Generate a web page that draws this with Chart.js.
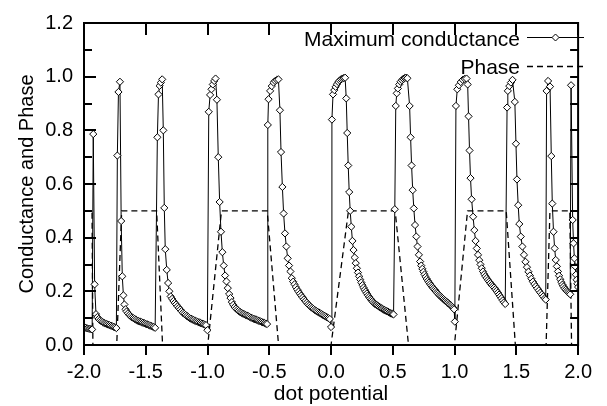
<!DOCTYPE html>
<html>
<head>
<meta charset="utf-8">
<script src="https://cdn.jsdelivr.net/npm/chart.js@4.4.1/dist/chart.umd.min.js"></script>
<style>
  html, body { margin: 0; padding: 0; background: #fff; }
  #wrap { width: 607px; height: 406px; }
</style>
</head>
<body>
<div id="wrap"><canvas id="chart" width="607" height="406"></canvas></div>
<script>
// Maximum conductance, one resonance at a time: [dot potential, value]
const tailLeft = [[-1.996,0.066],[-1.985,0.064],[-1.974,0.062],[-1.963,0.061],[-1.952,0.060],[-1.942,0.059],[-1.934,0.058]];
const peak1 = [[-1.925,0.786],[-1.914,0.226],[-1.903,0.115],[-1.892,0.104],[-1.881,0.097],[-1.870,0.092],[-1.859,0.088],[-1.848,0.085],[-1.837,0.082],[-1.826,0.080],[-1.815,0.078],[-1.804,0.076],[-1.793,0.074],[-1.782,0.072],[-1.771,0.070],[-1.760,0.068],[-1.749,0.066],[-1.738,0.063]];
const peak2 = [[-1.730,0.706],[-1.721,0.943],[-1.709,0.981],[-1.699,0.462],[-1.690,0.256],[-1.681,0.185],[-1.673,0.151],[-1.664,0.133],[-1.655,0.125],[-1.644,0.118],[-1.633,0.112],[-1.622,0.107],[-1.611,0.103],[-1.600,0.100],[-1.589,0.097],[-1.578,0.094],[-1.567,0.091],[-1.556,0.089],[-1.545,0.087],[-1.534,0.085],[-1.523,0.083],[-1.512,0.081],[-1.501,0.079],[-1.490,0.077],[-1.479,0.075],[-1.468,0.073],[-1.457,0.071],[-1.446,0.069],[-1.435,0.067],[-1.424,0.064]];
const peak3 = [[-1.406,0.774],[-1.397,0.934],[-1.388,0.966],[-1.378,0.978],[-1.367,0.990],[-1.358,0.800],[-1.350,0.511],[-1.342,0.357],[-1.330,0.280],[-1.319,0.231],[-1.309,0.200],[-1.298,0.181],[-1.287,0.172],[-1.276,0.164],[-1.265,0.157],[-1.254,0.151],[-1.243,0.144],[-1.232,0.138],[-1.221,0.132],[-1.210,0.126],[-1.199,0.120],[-1.188,0.116],[-1.177,0.112],[-1.166,0.108],[-1.155,0.104],[-1.144,0.100],[-1.133,0.098],[-1.122,0.095],[-1.111,0.093],[-1.100,0.090],[-1.089,0.088],[-1.078,0.086],[-1.067,0.084],[-1.056,0.082],[-1.045,0.080],[-1.034,0.078],[-1.023,0.076],[-1.012,0.074],[-1.001,0.055]];
const peak4 = [[-0.990,0.869],[-0.979,0.932],[-0.968,0.953],[-0.957,0.971],[-0.946,0.984],[-0.935,0.993],[-0.924,0.914],[-0.913,0.700],[-0.902,0.533],[-0.891,0.422],[-0.880,0.346],[-0.869,0.296],[-0.858,0.259],[-0.847,0.237],[-0.836,0.212],[-0.825,0.190],[-0.814,0.175],[-0.803,0.160],[-0.792,0.150],[-0.781,0.142],[-0.770,0.136],[-0.759,0.131],[-0.748,0.127],[-0.737,0.123],[-0.726,0.120],[-0.715,0.117],[-0.704,0.115],[-0.693,0.112],[-0.682,0.110],[-0.671,0.108],[-0.660,0.105],[-0.649,0.102],[-0.638,0.100],[-0.627,0.098],[-0.616,0.096],[-0.605,0.094],[-0.594,0.092],[-0.583,0.090],[-0.572,0.088],[-0.561,0.086],[-0.550,0.084],[-0.539,0.082],[-0.528,0.080],[-0.518,0.078]];
const peak5 = [[-0.512,0.820],[-0.506,0.916],[-0.493,0.947],[-0.480,0.965],[-0.466,0.978],[-0.453,0.984],[-0.439,0.988],[-0.426,0.990],[-0.414,0.875],[-0.405,0.719],[-0.394,0.589],[-0.384,0.490],[-0.373,0.416],[-0.362,0.367],[-0.351,0.323],[-0.340,0.296],[-0.329,0.274],[-0.318,0.249],[-0.307,0.236],[-0.296,0.226],[-0.285,0.216],[-0.274,0.207],[-0.263,0.199],[-0.252,0.191],[-0.241,0.184],[-0.230,0.177],[-0.219,0.170],[-0.208,0.164],[-0.197,0.158],[-0.186,0.152],[-0.175,0.147],[-0.164,0.142],[-0.153,0.138],[-0.142,0.134],[-0.131,0.130],[-0.120,0.127],[-0.109,0.124],[-0.098,0.121],[-0.087,0.118],[-0.076,0.115],[-0.065,0.112],[-0.054,0.109],[-0.043,0.106],[-0.032,0.103],[-0.021,0.100],[-0.010,0.097],[0.000,0.067]];
const peak6 = [[0.007,0.840],[0.016,0.934],[0.026,0.950],[0.037,0.962],[0.048,0.972],[0.059,0.980],[0.070,0.986],[0.081,0.990],[0.092,0.993],[0.103,0.995],[0.114,0.996],[0.123,0.919],[0.131,0.790],[0.139,0.669],[0.147,0.570],[0.155,0.500],[0.164,0.441],[0.173,0.388],[0.182,0.354],[0.191,0.326],[0.200,0.305],[0.209,0.286],[0.218,0.270],[0.227,0.256],[0.236,0.244],[0.245,0.233],[0.254,0.223],[0.263,0.214],[0.272,0.206],[0.281,0.199],[0.290,0.192],[0.299,0.185],[0.308,0.179],[0.317,0.173],[0.326,0.168],[0.335,0.163],[0.344,0.158],[0.353,0.154],[0.362,0.151],[0.371,0.149],[0.380,0.146],[0.389,0.143],[0.398,0.140],[0.407,0.137],[0.416,0.135],[0.425,0.132],[0.434,0.130],[0.443,0.128],[0.452,0.126],[0.461,0.124],[0.470,0.121],[0.479,0.119],[0.488,0.117],[0.497,0.116],[0.506,0.114]];
const peak7 = [[0.516,0.506],[0.524,0.891],[0.532,0.938],[0.541,0.956],[0.552,0.971],[0.563,0.981],[0.574,0.987],[0.585,0.992],[0.596,0.995],[0.607,0.996],[0.618,0.994],[0.636,0.891],[0.644,0.774],[0.652,0.669],[0.661,0.577],[0.670,0.509],[0.680,0.447],[0.690,0.404],[0.700,0.367],[0.711,0.336],[0.721,0.311],[0.730,0.296],[0.739,0.284],[0.748,0.273],[0.757,0.263],[0.766,0.254],[0.775,0.246],[0.784,0.239],[0.793,0.233],[0.802,0.227],[0.811,0.221],[0.820,0.216],[0.829,0.211],[0.838,0.206],[0.847,0.201],[0.856,0.196],[0.865,0.192],[0.874,0.187],[0.883,0.183],[0.892,0.179],[0.901,0.175],[0.910,0.171],[0.919,0.167],[0.928,0.164],[0.937,0.160],[0.946,0.157],[0.955,0.153],[0.964,0.150],[0.973,0.146],[0.982,0.142],[0.990,0.138],[0.996,0.133],[1.002,0.087]];
const peak8 = [[1.011,0.891],[1.022,0.953],[1.035,0.968],[1.050,0.980],[1.066,0.988],[1.082,0.992],[1.097,0.993],[1.106,0.971],[1.113,0.852],[1.121,0.725],[1.129,0.622],[1.138,0.543],[1.150,0.478],[1.160,0.428],[1.170,0.388],[1.180,0.360],[1.190,0.336],[1.200,0.316],[1.210,0.300],[1.220,0.286],[1.230,0.274],[1.240,0.264],[1.250,0.256],[1.260,0.249],[1.270,0.242],[1.280,0.236],[1.290,0.230],[1.300,0.224],[1.310,0.219],[1.320,0.214],[1.330,0.208],[1.340,0.202],[1.350,0.195],[1.360,0.188],[1.370,0.181],[1.380,0.174],[1.390,0.166],[1.400,0.159],[1.410,0.153]];
const peak9 = [[1.425,0.885],[1.431,0.947],[1.443,0.965],[1.456,0.978],[1.469,0.988],[1.488,0.906],[1.497,0.750],[1.505,0.617],[1.515,0.521],[1.524,0.451],[1.536,0.404],[1.549,0.367],[1.562,0.336],[1.574,0.310],[1.586,0.290],[1.598,0.273],[1.610,0.259],[1.622,0.247],[1.634,0.236],[1.646,0.227],[1.658,0.219],[1.670,0.211],[1.682,0.203],[1.694,0.195],[1.706,0.188],[1.718,0.181],[1.730,0.174],[1.738,0.169]];
const peak10 = [[1.745,0.947],[1.757,0.984],[1.773,0.963],[1.783,0.704],[1.791,0.527],[1.801,0.422],[1.810,0.360],[1.819,0.317],[1.828,0.293],[1.837,0.274],[1.846,0.258],[1.855,0.245],[1.864,0.234],[1.873,0.225],[1.882,0.218],[1.891,0.211],[1.900,0.206],[1.909,0.201],[1.918,0.197],[1.927,0.193],[1.936,0.189]];
const peak11 = [[1.943,0.968],[1.956,0.466],[1.963,0.379],[1.970,0.323],[1.976,0.293],[1.982,0.262],[1.988,0.243],[1.994,0.228],[2.000,0.216]];

// Phase (dashed), corners of the 0 / 0.5 steps
const phaseX = [-2.0, -1.935, -1.928, -1.735, -1.695, -1.412, -1.364, -0.998, -0.887, -0.517, -0.425, 0.0, 0.141, 0.519, 0.627, 0.999, 1.105, 1.418, 1.492, 1.741, 1.772, 1.933, 1.947, 2.0];
const phaseY = [0.5, 0.5, 0, 0, 0.5, 0.5, 0, 0, 0.5, 0.5, 0, 0, 0.5, 0.5, 0, 0, 0.5, 0.5, 0, 0, 0.5, 0.5, 0, 0];

const xTicks = [-2.0, -1.5, -1.0, -0.5, 0.0, 0.5, 1.0, 1.5, 2.0];
const yMinorTicks = [0, 0.1, 0.2, 0.3, 0.4, 0.5, 0.6, 0.7, 0.8, 0.9, 1.0, 1.1, 1.2];
const seriesNames = ['Maximum conductance', 'Phase'];
const xTitle = 'dot potential';
const yTitle = 'Conductance and Phase';

const FONT = '"Liberation Sans", Arial, Helvetica, sans-serif';

const condData = [tailLeft, peak1, peak2, peak3, peak4, peak5, peak6, peak7, peak8, peak9, peak10, peak11]
  .flat().map(([x, y]) => ({ x, y }));
const phaseData = phaseX.map((x, i) => ({ x, y: phaseY[i] }));

// box, inward/outward ticks, axis titles and the gnuplot-style key
const framePlugin = {
  id: 'frame',
  afterDatasetsDraw(chart) {
    const { ctx, chartArea: a, scales: { x, y } } = chart;
    ctx.save();
    ctx.strokeStyle = '#000';
    ctx.lineWidth = 2;
    ctx.strokeRect(a.left, a.top, a.right - a.left, a.bottom - a.top);

    ctx.beginPath();
    xTicks.forEach(v => {
      const px = Math.round(x.getPixelForValue(v));
      ctx.moveTo(px, a.bottom); ctx.lineTo(px, a.bottom + 10);
      ctx.moveTo(px, a.top); ctx.lineTo(px, a.top + 12);
    });
    yMinorTicks.forEach((v, i) => {
      const py = Math.round(y.getPixelForValue(v));
      ctx.moveTo(a.left, py); ctx.lineTo(a.left + (i % 2 ? 8 : 12), py);
      ctx.moveTo(a.right, py); ctx.lineTo(a.right - 8, py);
    });
    ctx.stroke();

    ctx.fillStyle = '#000';
    ctx.font = '21px ' + FONT;
    ctx.textAlign = 'center';
    ctx.textBaseline = 'alphabetic';
    ctx.fillText(xTitle, (a.left + a.right) / 2, 400);

    ctx.save();
    ctx.translate(33, (a.top + a.bottom) / 2);
    ctx.rotate(-Math.PI / 2);
    ctx.font = '20px ' + FONT;
    ctx.fillText(yTitle, 0, 0);
    ctx.restore();

    // key
    ctx.font = '21px ' + FONT;
    ctx.textAlign = 'right';
    ctx.fillText(seriesNames[0], 520, 46);
    ctx.fillText(seriesNames[1], 520, 74);

    ctx.lineWidth = 1;
    ctx.beginPath();
    ctx.moveTo(527, 37.5); ctx.lineTo(584, 37.5);
    ctx.stroke();
    ctx.setLineDash([6, 4]);
    ctx.lineWidth = 1.3;
    ctx.beginPath();
    ctx.moveTo(527, 66.5); ctx.lineTo(584, 66.5);
    ctx.stroke();
    ctx.setLineDash([]);
    ctx.lineWidth = 1;
    ctx.fillStyle = '#fff';
    ctx.beginPath();
    ctx.moveTo(555.5, 34); ctx.lineTo(559, 37.5); ctx.lineTo(555.5, 41); ctx.lineTo(552, 37.5);
    ctx.closePath();
    ctx.fill(); ctx.stroke();
    ctx.restore();
  }
};

new Chart(document.getElementById('chart'), {
  type: 'scatter',
  data: {
    datasets: [
      {
        label: seriesNames[0],
        data: condData,
        showLine: true,
        borderColor: '#000',
        borderWidth: 1,
        pointStyle: 'rectRot',
        pointRadius: 3.6,
        pointBorderWidth: 1,
        pointBackgroundColor: '#fff',
        pointBorderColor: '#000',
        order: 0
      },
      {
        label: seriesNames[1],
        data: phaseData,
        showLine: true,
        borderColor: '#000',
        borderWidth: 1.3,
        borderDash: [6, 4],
        pointRadius: 0,
        order: 1
      }
    ]
  },
  options: {
    responsive: false,
    animation: false,
    devicePixelRatio: 1,
    layout: { padding: { left: 0, top: 20, right: 22, bottom: 0 } },
    plugins: { legend: { display: false }, tooltip: { enabled: false } },
    scales: {
      x: {
        type: 'linear',
        min: -2,
        max: 2,
        grid: { display: false, drawTicks: false },
        border: { display: false },
        ticks: {
          stepSize: 0.5,
          autoSkip: false,
          maxRotation: 0,
          padding: 15,
          color: '#000',
          font: { size: 20, family: FONT },
          callback: v => v.toFixed(1)
        },
        afterFit: s => { s.height = 61; }
      },
      y: {
        min: 0,
        max: 1.2,
        grid: { display: false, drawTicks: false },
        border: { display: false },
        ticks: {
          stepSize: 0.2,
          autoSkip: false,
          padding: 11,
          color: '#000',
          font: { size: 20, family: FONT },
          callback: v => v.toFixed(1)
        },
        afterFit: s => { s.width = 84; }
      }
    }
  },
  plugins: [framePlugin]
});
</script>
</body>
</html>
